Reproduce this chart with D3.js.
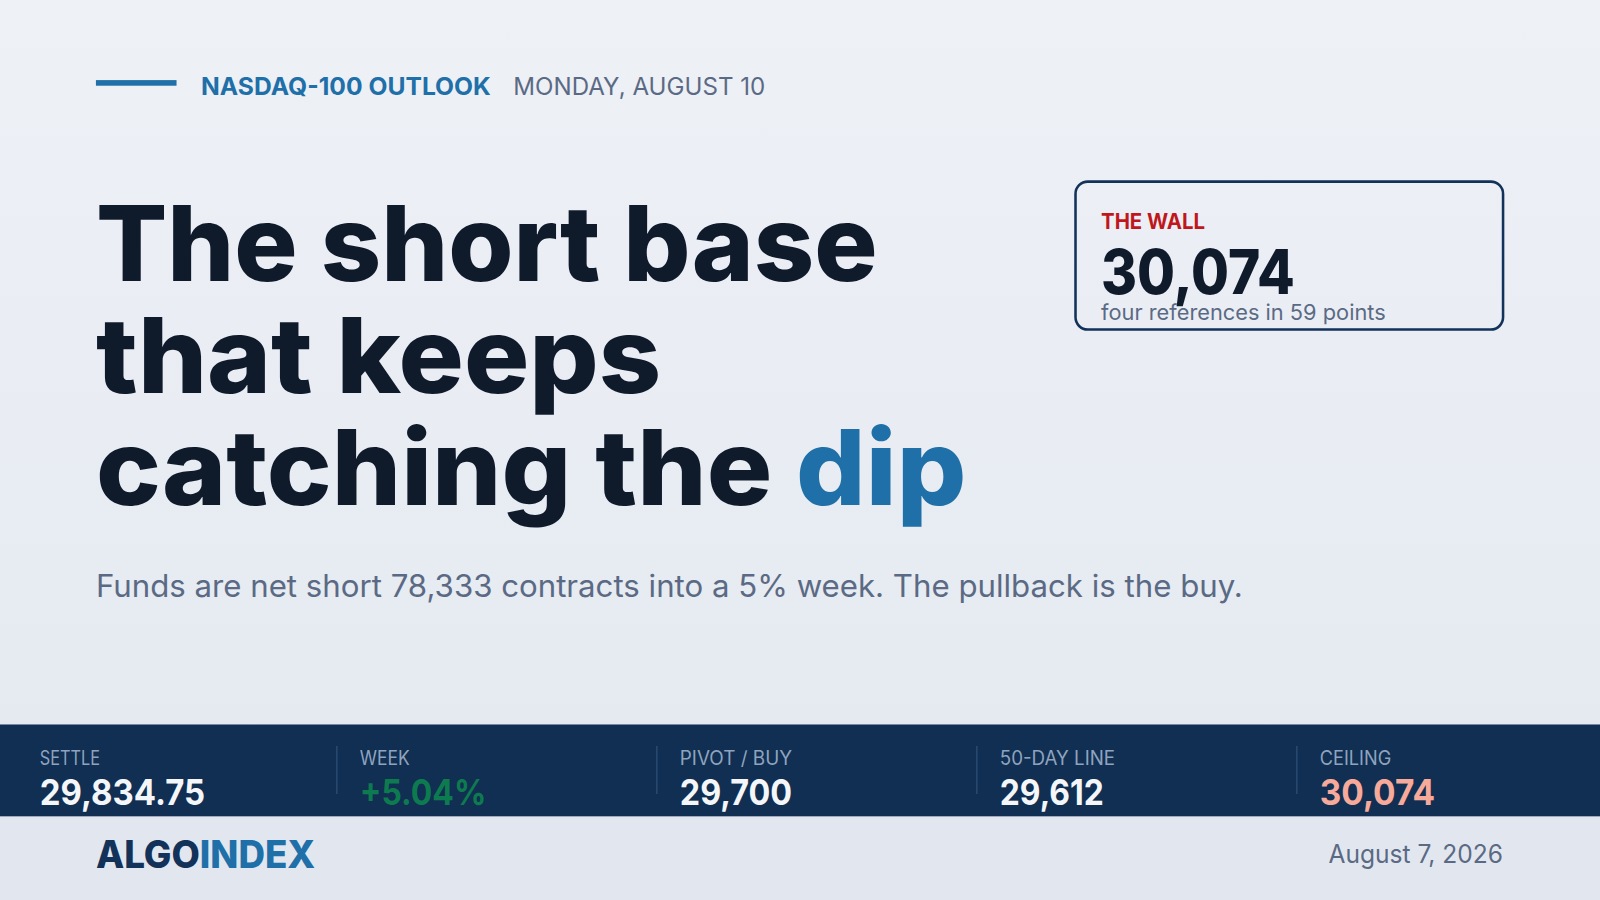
<!DOCTYPE html>
<html><head><meta charset="utf-8">
<script src="https://cdn.jsdelivr.net/npm/d3@7"></script>
<style>html,body{margin:0;padding:0;background:#e9edf4;overflow:hidden}svg{display:block}</style>
</head><body>
<script>
// ---- data ----
const kicker = "NASDAQ-100 OUTLOOK";
const dateline = "MONDAY, AUGUST 10";
const headlineLines = ["The short base", "that keeps", "catching the "];
const headlineAccent = "dip";
const subtitle = "Funds are net short 78,333 contracts into a 5% week. The pullback is the buy.";
const calloutLabel = "THE WALL";
const calloutValue = 30074;
const calloutNote = "four references in 59 points";
const statLabels = ["SETTLE", "WEEK", "PIVOT / BUY", "50-DAY LINE", "CEILING"];
const statValues = ["29,834.75", "+5.04%", "29,700", "29,612", "30,074"];
const statTone = ["plain", "up", "plain", "plain", "alert"];
const brandParts = ["ALGO", "INDEX"];
const footDate = "August 7, 2026";

// ---- drawing ----
const W = 1568, H = 882;
const FONT = "Inter, 'Noto Sans', 'DejaVu Sans', sans-serif";
const svg = d3.select("body").append("svg")
  .attr("width", 1600).attr("height", 900)
  .attr("viewBox", `0 0 ${W} ${H}`).attr("preserveAspectRatio", "none");

const defs = svg.append("defs");
const g = defs.append("linearGradient").attr("id", "bg").attr("x1", 0).attr("y1", 0).attr("x2", 0).attr("y2", 1);
g.append("stop").attr("offset", "0%").attr("stop-color", "#eef1f6");
g.append("stop").attr("offset", "100%").attr("stop-color", "#e3e8f0");

svg.append("rect").attr("width", W).attr("height", H).attr("fill", "url(#bg)");
svg.append("rect").attr("y", 800).attr("width", W).attr("height", H - 800).attr("fill", "#e2e7ef");

function fit(sel, w) {
  sel.attr("textLength", w).attr("lengthAdjust", "spacingAndGlyphs");
  return sel;
}

// kicker
svg.append("rect").attr("x", 94).attr("y", 78.5).attr("width", 79).attr("height", 5.5).attr("fill", "#1f6fa8");
fit(svg.append("text").attr("x", 197).attr("y", 93).attr("font-family", FONT).attr("font-weight", 700)
  .attr("font-size", 24).attr("fill", "#1f6fa8").text(kicker), 284);
fit(svg.append("text").attr("x", 503).attr("y", 93).attr("font-family", FONT).attr("font-weight", 400)
  .attr("font-size", 24).attr("fill", "#5b6a84").text(dateline), 247);

// headline
const hy = d3.scaleLinear().domain([0, 2]).range([275, 495]);
const hw = [766, 554, 853];
headlineLines.forEach((line, i) => {
  const t = svg.append("text").attr("x", 94).attr("y", hy(i)).attr("font-family", FONT)
    .attr("font-weight", 800).attr("font-size", 103).attr("fill", "#0f1a2b");
  t.append("tspan").text(line);
  if (i === headlineLines.length - 1) t.append("tspan").attr("fill", "#1f6fa8").text(headlineAccent);
  fit(t, hw[i]);
});

// subtitle
fit(svg.append("text").attr("x", 94).attr("y", 585).attr("font-family", FONT).attr("font-weight", 400)
  .attr("font-size", 30).attr("fill", "#5b6a84").text(subtitle), 1124);

// callout box
svg.append("rect").attr("x", 1054).attr("y", 178).attr("width", 419).attr("height", 145)
  .attr("rx", 12).attr("fill", "none").attr("stroke", "#12325a").attr("stroke-width", 2.5);
fit(svg.append("text").attr("x", 1079).attr("y", 224).attr("font-family", FONT).attr("font-weight", 700)
  .attr("font-size", 21).attr("fill", "#c0171c").text(calloutLabel), 102);
fit(svg.append("text").attr("x", 1079).attr("y", 288).attr("font-family", FONT).attr("font-weight", 800)
  .attr("font-size", 60).attr("fill", "#0f1a2b").text(d3.format(",")(calloutValue)), 190);
fit(svg.append("text").attr("x", 1079).attr("y", 314).attr("font-family", FONT).attr("font-weight", 400)
  .attr("font-size", 21).attr("fill", "#5b6a84").text(calloutNote), 279);

// stat strip
svg.append("rect").attr("x", 0).attr("y", 710).attr("width", W).attr("height", 90).attr("fill", "#102f52");
const xs = d3.scaleBand().domain(statLabels).range([0, W]);
const toneColor = { plain: "#f4f6fa", up: "#0e7a4f", alert: "#f7a99a" };
const labelW = [59, 49, 110, 113, 70];
const valueW = [162, 124, 110, 102, 113];
const cells = svg.selectAll("g.stat").data(statLabels).join("g").attr("class", "stat")
  .attr("transform", d => `translate(${xs(d)},0)`);
cells.filter((d, i) => i > 0).append("line")
  .attr("x1", 16.5).attr("x2", 16.5).attr("y1", 731).attr("y2", 778)
  .attr("stroke", "#2b4a70").attr("stroke-width", 1.5);
cells.append("text").attr("x", 39).attr("y", 750).attr("font-family", FONT).attr("font-weight", 400)
  .attr("font-size", 19).attr("fill", "#8fa3bf").text(d => d)
  .attr("textLength", (d, i) => labelW[i]).attr("lengthAdjust", "spacingAndGlyphs");
cells.append("text").attr("x", 39).attr("y", 789).attr("font-family", FONT).attr("font-weight", 700)
  .attr("font-size", 35).attr("fill", (d, i) => toneColor[statTone[i]]).text((d, i) => statValues[i])
  .attr("textLength", (d, i) => valueW[i]).attr("lengthAdjust", "spacingAndGlyphs");

// footer
const brand = svg.append("text").attr("x", 94).attr("y", 851).attr("font-family", FONT)
  .attr("font-weight", 800).attr("font-size", 37);
brand.append("tspan").attr("fill", "#12325a").text(brandParts[0]);
brand.append("tspan").attr("fill", "#1f6fa8").text(brandParts[1]);
fit(brand, 215);
fit(svg.append("text").attr("x", 1302).attr("y", 846).attr("font-family", FONT).attr("font-weight", 400)
  .attr("font-size", 25).attr("fill", "#5b6a84").text(footDate), 171);
</script>
</body></html>
